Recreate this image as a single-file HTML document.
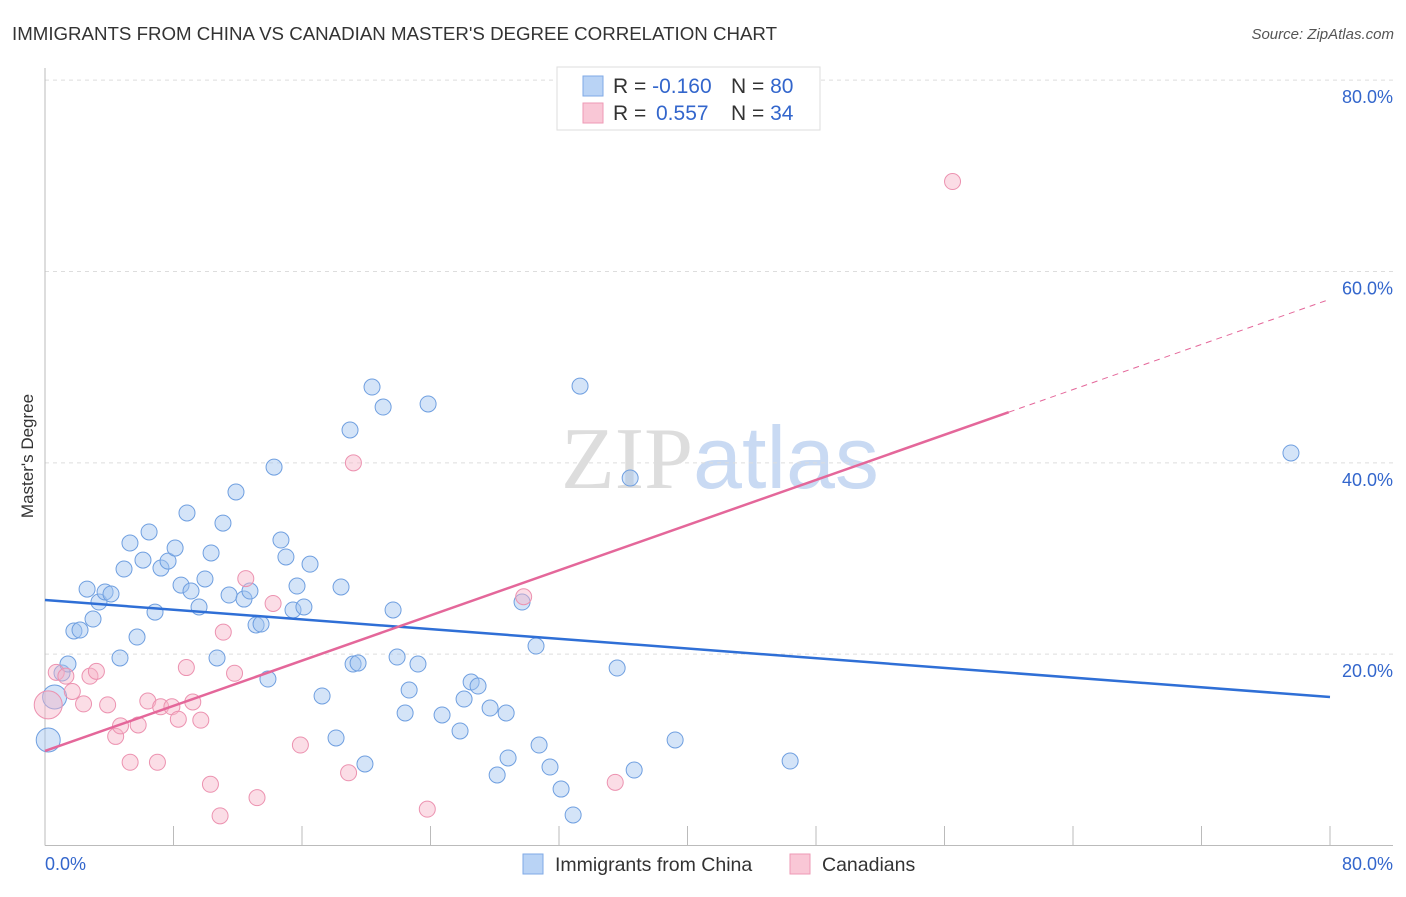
<!DOCTYPE html>
<html><head><meta charset="utf-8"><style>
body{margin:0;background:#fff;font-family:"Liberation Sans",sans-serif}
svg text{font-family:"Liberation Sans",sans-serif}
</style></head><body>
<svg id="chart" width="1406" height="892" xmlns="http://www.w3.org/2000/svg">
<text x="12" y="40" font-size="18.7" fill="#333">IMMIGRANTS FROM CHINA VS CANADIAN MASTER'S DEGREE CORRELATION CHART</text>
<text x="1394" y="39" font-size="15" fill="#555" text-anchor="end" font-style="italic">Source: ZipAtlas.com</text>
<text x="720" y="488" font-size="88" text-anchor="middle"><tspan fill="#ddd" font-family="Liberation Serif">ZIP</tspan><tspan fill="#c9daf3">atlas</tspan></text>
<text transform="translate(33,456) rotate(-90)" font-size="17" fill="#333" text-anchor="middle">Master's Degree</text>
<g id="grid"></g><g id="marks"></g>
<g>
<rect x="557" y="67" width="263" height="63" fill="#fff" stroke="#ddd"/>
<rect x="583" y="76" width="20" height="20" fill="#b9d3f5" stroke="#7fa9e6"/>
<rect x="583" y="103" width="20" height="20" fill="#f9c7d6" stroke="#ee9ab5"/>
<text x="613" y="93" font-size="21" fill="#333">R = <tspan fill="#3366cc">-0.160</tspan><tspan x="731">N = </tspan><tspan fill="#3366cc">80</tspan></text>
<text x="613" y="120" font-size="21" fill="#333">R = <tspan x="656" fill="#3366cc">0.557</tspan><tspan x="731">N = </tspan><tspan fill="#3366cc">34</tspan></text>
</g>
<g>
<rect x="523" y="854" width="20" height="20" fill="#b9d3f5" stroke="#7fa9e6"/>
<text x="555" y="871" font-size="19.5" fill="#333">Immigrants from China</text>
<rect x="790" y="854" width="20" height="20" fill="#f9c7d6" stroke="#ee9ab5"/>
<text x="822" y="871" font-size="19.5" fill="#333">Canadians</text>
</g>
</svg>
<script>
const xTicks=[0,80];
const yTicks=[20,40,60,80];
const blueX=[0.2,0.6,1.06,1.43,1.8,2.18,2.62,2.99,3.36,3.74,4.11,4.67,4.92,5.29,5.73,6.1,6.48,6.85,7.22,7.66,8.1,8.47,8.84,9.09,9.59,9.96,10.34,10.71,11.08,11.46,11.89,12.39,12.76,13.14,13.45,13.88,14.26,14.69,15.0,15.44,15.69,16.12,16.5,17.25,18.12,18.43,18.99,19.18,19.49,19.92,20.36,21.05,21.67,21.92,22.67,22.42,23.22,23.85,24.72,25.84,26.09,26.53,26.96,27.71,28.15,28.71,28.83,29.7,30.57,30.76,31.44,32.13,32.88,33.31,35.62,36.43,36.68,39.23,46.39,77.57];
const blueY=[11.03,15.52,18.03,18.97,22.42,22.52,26.8,23.67,25.45,26.5,26.29,19.6,28.9,31.62,21.79,29.83,32.77,24.4,29.0,29.73,31.09,27.22,34.76,26.6,24.93,27.86,30.58,19.6,33.7,26.18,36.95,25.76,26.6,23.05,23.15,17.4,39.55,31.93,30.16,24.62,27.12,24.93,29.41,15.63,11.24,27.02,43.43,18.97,19.07,8.52,47.92,45.83,24.62,19.7,16.25,13.85,18.97,46.15,13.64,11.97,15.31,17.09,16.67,14.37,7.37,13.85,9.15,25.45,20.85,10.5,8.2,5.9,3.19,48.02,18.55,38.41,7.89,11.03,8.83,41.03];
const pinkX=[0.2,0.7,1.3,1.7,2.4,2.8,3.2,3.9,4.4,4.7,5.3,5.8,6.4,7.0,7.2,7.9,8.3,8.8,9.2,9.7,10.3,10.9,11.1,11.8,12.5,13.2,14.2,15.9,18.9,19.2,23.8,29.8,35.5,56.5];
const pinkY=[14.7,18.1,17.7,16.1,14.8,17.7,18.2,14.7,11.4,12.5,8.7,12.6,15.1,8.7,14.5,14.5,13.2,18.6,15.0,13.1,6.4,3.1,22.3,18.0,27.9,5.0,25.3,10.5,7.6,40.0,3.8,26.0,6.6,69.4];
const blueTrend=[25.66,15.52];   // y at x=0, y at x=80
const pinkTrend=[9.88,57.1];     // y at x=0, y at x=80
const pinkSolidEnd=60;
const bigBlue=[0,1],bigPink=[0];
const X=v=>45+v*16.0625, Y=v=>845.5-v*9.567;
const NS='http://www.w3.org/2000/svg';
const grid=document.getElementById('grid'),marks=document.getElementById('marks');
function mk(tag,attrs,parent){const e=document.createElementNS(NS,tag);for(const k in attrs)e.setAttribute(k,attrs[k]);parent.appendChild(e);return e;}
yTicks.forEach(t=>{
 const l=mk('line',{x1:45,x2:1393,y1:Y(t),y2:Y(t),stroke:'#ddd','stroke-dasharray':'4,4'},grid);
 
 
 const tx=mk('text',{x:1393,y:Y(t)+23,'font-size':18,fill:'#3366cc','text-anchor':'end'},grid);
 tx.textContent=t.toFixed(1)+'%';
 
 
});
const ax=mk('line',{x1:45,x2:1393,y1:845.5,y2:845.5,stroke:'#bbb'},grid);


const ay=mk('line',{x1:45,x2:45,y1:68,y2:845.5,stroke:'#bbb'},grid);


for(let i=1;i<=10;i++){const v=i*8;const tk=mk('line',{x1:X(v),x2:X(v),y1:826,y2:845.5,stroke:'#bbb'},grid);
 
 }
xTicks.forEach((t,i)=>{const tx=mk('text',{x:i?1393:45,y:870,'font-size':18,fill:'#3366cc','text-anchor':i?'end':'start'},grid);
 tx.textContent=t.toFixed(1)+'%';
 
 });
blueX.forEach((v,i)=>{const c=mk('circle',{cx:X(v),cy:Y(blueY[i]),r:bigBlue.includes(i)?12:8,fill:'rgba(160,196,240,0.45)',stroke:'#6f9fe0','stroke-width':1},marks);
 
 });
pinkX.forEach((v,i)=>{const c=mk('circle',{cx:X(v),cy:Y(pinkY[i]),r:bigPink.includes(i)?14:8,fill:'rgba(247,180,200,0.45)',stroke:'#ec92b0','stroke-width':1},marks);
 
 });
const bl=mk('line',{x1:X(0),y1:Y(blueTrend[0]),x2:X(80),y2:Y(blueTrend[1]),stroke:'#2f6fd6','stroke-width':2.5},marks);


const py=x=>pinkTrend[0]+(pinkTrend[1]-pinkTrend[0])*x/80;
const pl=mk('line',{x1:X(0),y1:Y(py(0)),x2:X(pinkSolidEnd),y2:Y(py(pinkSolidEnd)),stroke:'#e4679a','stroke-width':2.5},marks);


const pd=mk('line',{x1:X(pinkSolidEnd),y1:Y(py(pinkSolidEnd)),x2:X(80),y2:Y(py(80)),stroke:'#e4679a','stroke-width':1,'stroke-dasharray':'6,5'},marks);


</script>
</body></html>
